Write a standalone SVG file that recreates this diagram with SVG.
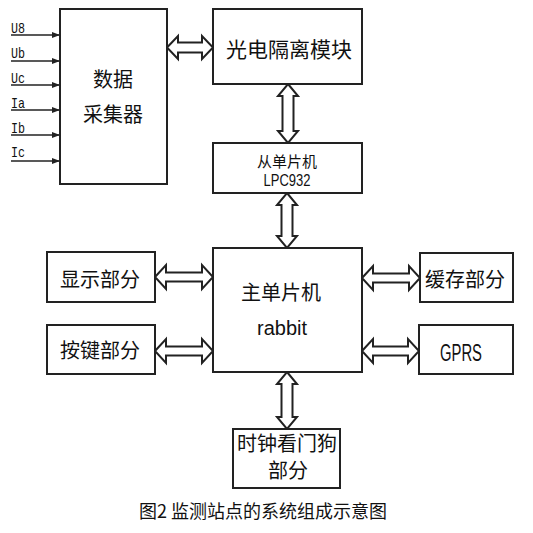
<svg xmlns="http://www.w3.org/2000/svg" width="533" height="533" viewBox="0 0 533 533">
<defs>
<style>
.box{fill:#fff;stroke:#222;stroke-width:2}
.arr{fill:#fff;stroke:#222;stroke-width:2;stroke-linejoin:miter}
.in{stroke:#222;stroke-width:1.6;fill:none}
.cn{font-family:"Noto Sans CJK SC","Noto Sans",sans-serif;font-size:20px;fill:#111;text-anchor:middle}
.lat{font-family:"Liberation Sans",Arial,sans-serif;font-size:20px;fill:#111;text-anchor:middle}
.lbl{font-family:"Liberation Mono","DejaVu Sans Mono",monospace;font-size:15px;fill:#111}
.cap{font-family:"Noto Sans CJK SC","Noto Sans",sans-serif;font-size:18px;fill:#111;text-anchor:middle}
</style>
<marker id="ah" viewBox="0 0 8 6" refX="8" refY="3" markerWidth="8" markerHeight="6" markerUnits="userSpaceOnUse" orient="auto">
<path d="M0,0 L8,3 L0,6 Z" fill="#222"/>
</marker>
</defs>
<rect width="533" height="533" fill="#fff"/>

<g id="connectors">
<line class="in" x1="11" y1="35" x2="60" y2="35" marker-end="url(#ah)"/>
<line class="in" x1="11" y1="61" x2="60" y2="61" marker-end="url(#ah)"/>
<line class="in" x1="11" y1="85" x2="60" y2="85" marker-end="url(#ah)"/>
<line class="in" x1="11" y1="110" x2="60" y2="110" marker-end="url(#ah)"/>
<line class="in" x1="11" y1="135" x2="60" y2="135" marker-end="url(#ah)"/>
<line class="in" x1="11" y1="161" x2="60" y2="161" marker-end="url(#ah)"/>
<polygon class="arr" points="167,47.5 178,36 178,42.5 202,42.5 202,36 213,47.5 202,59 202,52.5 178,52.5 178,59"/>
<polygon class="arr" points="155,277 166,265 166,272.5 202,272.5 202,265 213,277 202,289 202,281.5 166,281.5 166,289"/>
<polygon class="arr" points="155,351 166,339 166,346.5 202,346.5 202,339 213,351 202,363 202,355.5 166,355.5 166,363"/>
<polygon class="arr" points="362,278 373,266 373,273.5 409,273.5 409,266 420,278 409,290 409,282.5 373,282.5 373,290"/>
<polygon class="arr" points="362,351 373,339 373,346.5 408,346.5 408,339 419,351 408,363 408,355.5 373,355.5 373,363"/>
<polygon class="arr" points="288,84 298,96 293.5,96 293.5,131 298,131 288,143 278,131 282.5,131 282.5,96 278,96"/>
<polygon class="arr" points="287,193 297,205 292.5,205 292.5,236 297,236 287,248 277,236 281.5,236 281.5,205 277,205"/>
<polygon class="arr" points="287,372 297,384 292.5,384 292.5,417 297,417 287,429 277,417 281.5,417 281.5,384 277,384"/>
</g>

<g id="inputs">
<text class="lbl" x="11" y="33" textLength="14" lengthAdjust="spacingAndGlyphs">U8</text>
<text class="lbl" x="11" y="58" textLength="14" lengthAdjust="spacingAndGlyphs">Ub</text>
<text class="lbl" x="11" y="83" textLength="14" lengthAdjust="spacingAndGlyphs">Uc</text>
<text class="lbl" x="11" y="108" textLength="14" lengthAdjust="spacingAndGlyphs">Ia</text>
<text class="lbl" x="11" y="133" textLength="14" lengthAdjust="spacingAndGlyphs">Ib</text>
<text class="lbl" x="11" y="157" textLength="14" lengthAdjust="spacingAndGlyphs">Ic</text>
</g>

<g id="collector">
<rect class="box" x="60" y="9" width="107" height="175"/>
<text class="cn" x="113" y="87">数据</text>
<text class="cn" x="113" y="122">采集器</text>
</g>

<g id="isolation">
<rect class="box" x="213" y="9" width="149" height="75"/>
<text class="cn" x="289" y="57" style="font-size:21px">光电隔离模块</text>
</g>

<g id="slave">
<rect class="box" x="213" y="143" width="149" height="50"/>
<text class="cn" x="287" y="167" style="font-size:15px">从单片机</text>
<text class="lat" x="287" y="186" style="font-size:17px" textLength="47" lengthAdjust="spacingAndGlyphs">LPC932</text>
</g>

<g id="main">
<rect class="box" x="213" y="248" width="149" height="124"/>
<text class="cn" x="281" y="300">主单片机</text>
<text class="lat" x="282" y="335">rabbit</text>
</g>

<g id="display">
<rect class="box" x="47" y="252" width="108" height="50"/>
<text class="cn" x="100" y="287">显示部分</text>
</g>

<g id="keys">
<rect class="box" x="47" y="325" width="108" height="49"/>
<text class="cn" x="100" y="358">按键部分</text>
</g>

<g id="cache">
<rect class="box" x="420" y="253" width="93" height="49"/>
<text class="cn" x="465" y="287">缓存部分</text>
</g>

<g id="gprs">
<rect class="box" x="419" y="325" width="94" height="49"/>
<text class="lat" x="461" y="361" style="font-size:23px" textLength="42" lengthAdjust="spacingAndGlyphs">GPRS</text>
</g>

<g id="watchdog">
<rect class="box" x="233" y="429" width="107" height="59"/>
<text class="cn" x="287" y="451">时钟看门狗</text>
<text class="cn" x="288" y="478">部分</text>
</g>

<text class="cap" x="263" y="518">图2 监测站点的系统组成示意图</text>
</svg>
